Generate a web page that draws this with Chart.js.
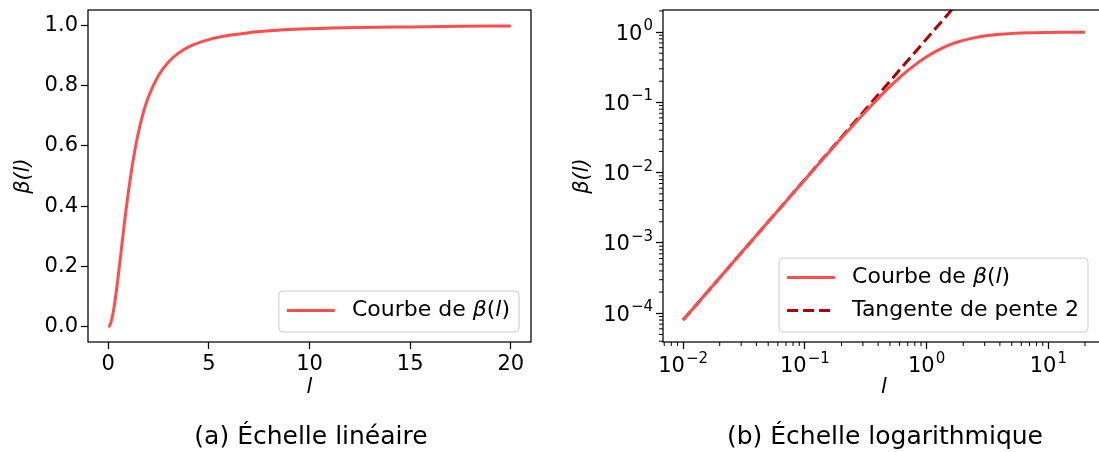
<!DOCTYPE html>
<html lang="fr">
<head>
<meta charset="utf-8">
<script src="https://cdn.jsdelivr.net/npm/chart.js@4.4.1/dist/chart.umd.min.js"></script>
<style>
  html, body { margin: 0; padding: 0; background: #fff; overflow: hidden; }
  body { width: 1099px; height: 452px; position: relative; font-family: "DejaVu Sans", sans-serif; }
  canvas { position: absolute; top: 0; }
  #linearChart { left: 0; }
  #logChart { left: 549px; }
  .caption {
    position: absolute; top: 420px; line-height: 32px;
    font-size: 25px; color: #000; white-space: nowrap;
    transform: translateX(-50%);
  }
</style>
</head>
<body>
<canvas id="linearChart" width="550" height="452"></canvas>
<canvas id="logChart" width="557" height="452"></canvas>
<div class="caption" style="left: 311px;">(a) Échelle linéaire</div>
<div class="caption" style="left: 885px;">(b) Échelle logarithmique</div>

<script>
// beta(l) sampled along l
const lValues = [
  0.01, 0.02, 0.05, 0.1, 0.15, 0.2, 0.3, 0.4, 0.5, 0.6, 0.7, 0.8, 0.9, 1.0,
  1.2, 1.4, 1.6, 1.8, 2.0, 2.5, 3.0, 3.5, 4.0, 5.0, 6.0, 7.0, 8.0, 9.0, 10,
  12.5, 15, 17.5, 20,
];
const betaValues = [
  0.00008, 0.00032, 0.002, 0.0079, 0.0177, 0.031, 0.067, 0.114, 0.167, 0.224,
  0.282, 0.339, 0.393, 0.444, 0.535, 0.611, 0.672, 0.722, 0.762, 0.833, 0.878,
  0.907, 0.928, 0.952, 0.966, 0.975, 0.981, 0.985, 0.988, 0.992, 0.994, 0.996,
  0.997,
];

// slope-2 tangent at small l (log-log)
const tangentL = [0.01, 2];
const tangentBeta = [0.00008, 3.2];

// ticks
const linearXTicks = [0, 5, 10, 15, 20];
const linearYTicks = [0, 0.2, 0.4, 0.6, 0.8, 1.0];
const logXTicks = [0.01, 0.1, 1, 10];
const logXLabels = [["10", "−2"], ["10", "−1"], ["10", "0"], ["10", "1"]];
const logYTicks = [0.0001, 0.001, 0.01, 0.1, 1];
const logYLabels = [["10", "−4"], ["10", "−3"], ["10", "−2"], ["10", "−1"], ["10", "0"]];

const FONT = '"DejaVu Sans", sans-serif';
const curveColor = "rgb(255, 77, 77)";
const tangentColor = "#b00000";

const curvePoints = lValues.map((l, i) => ({ x: l, y: betaValues[i] }));
const tangentPoints = tangentL.map((l, i) => ({ x: l, y: tangentBeta[i] }));

// black box round the plot area
const frame = {
  id: "frame",
  afterDatasetsDraw(chart) {
    const { ctx, chartArea: a } = chart;
    ctx.save();
    ctx.strokeStyle = "#000";
    ctx.lineWidth = 1.25;
    ctx.strokeRect(a.left, a.top, a.right - a.left, a.bottom - a.top);
    ctx.restore();
  },
};

// short unlabelled ticks at 2..9 x 10^n on log axes
const minorTicks = {
  id: "minorTicks",
  afterDraw(chart, args, opts) {
    if (!opts.enabled) return;
    const { ctx, chartArea: a } = chart;
    ctx.save();
    ctx.strokeStyle = "#000";
    ctx.lineWidth = 1;
    ["x", "y"].forEach((id) => {
      const s = chart.scales[id];
      const e0 = Math.floor(Math.log10(s.min));
      const e1 = Math.ceil(Math.log10(s.max));
      for (let e = e0; e <= e1; e++) {
        for (let k = 2; k <= 9; k++) {
          const v = k * Math.pow(10, e);
          if (v < s.min || v > s.max) continue;
          const p = s.getPixelForValue(v);
          ctx.beginPath();
          if (id === "x") {
            ctx.moveTo(p, a.bottom);
            ctx.lineTo(p, a.bottom + 4);
          } else {
            ctx.moveTo(a.left, p);
            ctx.lineTo(a.left - 4, p);
          }
          ctx.stroke();
        }
      }
    });
    ctx.restore();
  },
};

// "10" with a raised exponent for the log tick labels
const powerLabels = {
  id: "powerLabels",
  afterDraw(chart, args, opts) {
    if (!opts.enabled) return;
    const { ctx, chartArea: a } = chart;
    const baseFont = "21px " + FONT;
    const supFont = "15px " + FONT;
    ctx.save();
    ctx.fillStyle = "#000";
    ctx.textBaseline = "alphabetic";
    ["x", "y"].forEach((id) => {
      const s = chart.scales[id];
      const labels = opts[id];
      s.ticks.forEach((t, i) => {
        const [b, sup] = labels[i];
        ctx.font = baseFont;
        const bw = ctx.measureText(b).width;
        ctx.font = supFont;
        const sw = ctx.measureText(sup).width;
        const p = s.getPixelForValue(t.value);
        let x, y;
        if (id === "x") {
          x = p - (bw + sw + 1) / 2;
          y = a.bottom + 30;
        } else {
          x = a.left - 10 - bw - sw - 1;
          y = p + 7.5;
        }
        ctx.font = baseFont;
        ctx.fillText(b, x, y);
        ctx.font = supFont;
        ctx.fillText(sup, x + bw + 1, y - 9.5);
      });
    });
    ctx.restore();
  },
};

// legend box in the lower right corner, labels with italic math parts
const boxLegend = {
  id: "boxLegend",
  afterDraw(chart, args, opts) {
    if (!opts.items) return;
    const { ctx, chartArea: a } = chart;
    const size = 22;
    const fontFor = (it) => (it ? "italic " : "") + size + "px " + FONT;
    const measure = (parts) =>
      parts.reduce((w, [t, it]) => {
        ctx.font = fontFor(it);
        return w + ctx.measureText(t).width;
      }, 0);

    ctx.save();
    const textW = Math.max(...opts.items.map((item) => measure(item.label)));
    const w = 73 + textW + 9;
    const h = 8 + opts.items.length * 33;
    const x = a.right - opts.right - w;
    const y = a.bottom - opts.bottom - h;

    ctx.beginPath();
    ctx.roundRect(x, y, w, h, 4);
    ctx.fillStyle = "rgba(255,255,255,0.8)";
    ctx.fill();
    ctx.strokeStyle = "#cccccc";
    ctx.lineWidth = 1;
    ctx.stroke();

    opts.items.forEach((item, i) => {
      const cy = y + 3 + 33 * (i + 0.5);
      ctx.beginPath();
      ctx.strokeStyle = item.color;
      ctx.lineWidth = 3;
      ctx.setLineDash(item.dash || []);
      ctx.moveTo(x + 8, cy);
      ctx.lineTo(x + 56, cy);
      ctx.stroke();
      ctx.setLineDash([]);

      let tx = x + 73;
      ctx.fillStyle = "#000";
      ctx.textBaseline = "middle";
      item.label.forEach(([t, it]) => {
        ctx.font = fontFor(it);
        ctx.fillText(t, tx, cy);
        tx += ctx.measureText(t).width;
      });
    });
    ctx.restore();
  },
};

const betaLabel = [["Courbe de ", false], ["β", true], ["(", false], ["l", true], [")", false]];

// fixed axis sizes so the plot box sits where it should
const fitX = (s) => {
  s.height = 60;
  s.paddingLeft = 0;
  s.paddingRight = 0;
};
const fitY = (width) => (s) => {
  s.width = width;
  s.paddingTop = 0;
  s.paddingBottom = 0;
};

function axisStyle(ticks, labels, fit, labelColor = "#000") {
  return {
    afterBuildTicks: (scale) => {
      scale.ticks = ticks.map((v) => ({ value: v }));
    },
    afterFit: fit,
    border: { display: false },
    grid: {
      drawOnChartArea: false,
      tickLength: 7,
      tickColor: "#000",
      tickWidth: 1.25,
    },
    ticks: {
      autoSkip: false,
      maxRotation: 0,
      color: labelColor,
      font: { family: FONT, size: 21 },
      callback: (value, index) => labels[index],
    },
  };
}

function axisTitle(text, padding) {
  return {
    display: true,
    text: text,
    color: "#000",
    font: { family: FONT, size: 21, style: "italic" },
    padding: padding,
  };
}

// (a) linear scale
new Chart(document.getElementById("linearChart"), {
  type: "line",
  data: {
    datasets: [
      {
        label: "Courbe de β(l)",
        data: curvePoints,
        borderColor: curveColor,
        borderWidth: 3,
        pointRadius: 0,
        cubicInterpolationMode: "monotone",
      },
    ],
  },
  options: {
    responsive: false,
    animation: false,
    layout: { padding: { top: 10, right: 19, bottom: 50, left: 0 } },
    scales: {
      x: {
        type: "linear",
        min: -1,
        max: 21,
        ...axisStyle(linearXTicks, linearXTicks.map(String), fitX),
        title: axisTitle("l", { top: 0, bottom: 2 }),
      },
      y: {
        type: "linear",
        min: -0.05,
        max: 1.05,
        ...axisStyle(linearYTicks, linearYTicks.map((v) => v.toFixed(1)), fitY(88)),
        title: axisTitle("β(l)", { top: 11, bottom: 0 }),
      },
    },
    plugins: {
      legend: { display: false },
      tooltip: { enabled: false },
      boxLegend: {
        right: 12,
        bottom: 10,
        items: [{ label: betaLabel, color: curveColor }],
      },
    },
  },
  plugins: [frame, boxLegend],
});

// (b) log-log scale
new Chart(document.getElementById("logChart"), {
  type: "line",
  data: {
    datasets: [
      {
        label: "Courbe de β(l)",
        data: curvePoints,
        borderColor: curveColor,
        borderWidth: 3,
        pointRadius: 0,
        cubicInterpolationMode: "monotone",
      },
      {
        label: "Tangente de pente 2",
        data: tangentPoints,
        borderColor: tangentColor,
        borderWidth: 3,
        borderDash: [11, 5],
        pointRadius: 0,
      },
    ],
  },
  options: {
    responsive: false,
    animation: false,
    layout: { padding: { top: 10, right: 1, bottom: 50, left: 0 } },
    scales: {
      x: {
        type: "logarithmic",
        min: 0.00684,
        max: 29.2,
        ...axisStyle(logXTicks, logXLabels.map((p) => p.join("")), fitX, "rgba(0,0,0,0)"),
        title: axisTitle("l", { top: 0, bottom: 2 }),
      },
      y: {
        type: "logarithmic",
        min: 0.000039,
        max: 2.06,
        ...axisStyle(logYTicks, logYLabels.map((p) => p.join("")), fitY(114), "rgba(0,0,0,0)"),
        title: axisTitle("β(l)", { top: 21, bottom: 0 }),
      },
    },
    plugins: {
      legend: { display: false },
      tooltip: { enabled: false },
      minorTicks: { enabled: true },
      powerLabels: { enabled: true, x: logXLabels, y: logYLabels },
      boxLegend: {
        right: 17,
        bottom: 10,
        items: [
          { label: betaLabel, color: curveColor },
          {
            label: [["Tangente de pente 2", false]],
            color: tangentColor,
            dash: [11, 5],
          },
        ],
      },
    },
  },
  plugins: [frame, minorTicks, powerLabels, boxLegend],
});
</script>
</body>
</html>
